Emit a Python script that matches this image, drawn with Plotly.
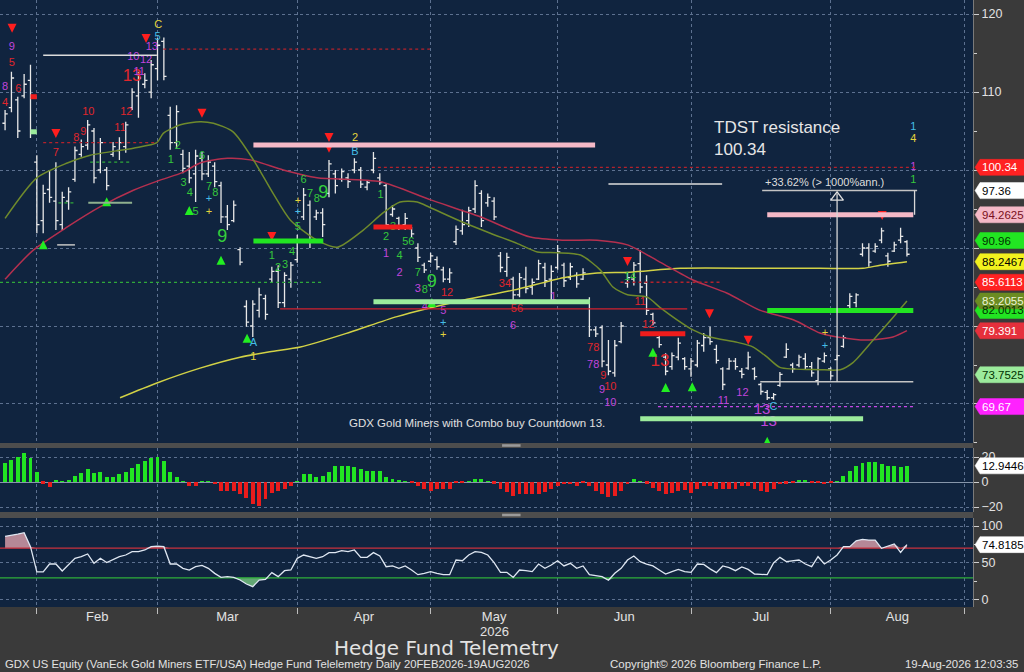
import numpy as np
import plotly.graph_objects as go
from plotly.subplots import make_subplots

# one entry per trading day, index 0 = last days of January 2026
bar_high = [
    107.7, 112.6, 109.4, 112.3, 113.5, 101.9, 98.1, 100.0, 101.0, 97.2,
    97.8, 103.0, 103.9, 106.4, 105.4, 104.1, 100.4, 103.6, 104.2, 106.2,
    110.5, 112.6, 112.4, 114.1, 116.9, 117.0, 108.1, 108.3, 102.6, 102.3,
    102.6, 102.3, 101.9, 101.0, 98.5, 95.5, 96.1, 90.1, 83.3, 83.3,
    84.9, 84.0, 87.6, 87.8, 86.9, 88.2, 91.7, 97.7, 96.1, 94.9,
    95.1, 101.3, 100.0, 100.2, 99.6, 101.5, 100.4, 98.7, 102.3, 99.6,
    98.3, 95.5, 94.0, 94.5, 92.7, 90.6, 88.1, 89.4, 88.9, 87.6,
    87.4, 92.9, 94.9, 95.3, 98.7, 97.4, 97.0, 96.5, 89.5, 89.4,
    86.3, 86.8, 87.6, 86.1, 88.5, 88.1, 87.8, 90.4, 88.1, 88.1,
    86.9, 87.4, 83.7, 79.9, 80.1, 78.2, 78.2, 80.5, 86.9, 88.2,
    89.7, 86.5, 81.7, 78.8, 76.5, 76.6, 78.5, 76.0, 75.9, 78.2,
    79.1, 79.9, 77.6, 74.7, 75.9, 75.9, 74.6, 76.7, 74.7, 72.7,
    71.8, 71.4, 74.1, 77.8, 75.3, 76.3, 76.5, 75.4, 76.0, 76.6,
    74.7, 76.3, 78.8, 84.2, 84.2, 90.6, 90.6, 90.6, 92.6, 89.4,
    90.8, 92.6, 91.0,
]
bar_low = [
    105.1, 107.4, 104.1, 109.2, 104.1, 91.9, 91.9, 95.8, 92.3, 92.3,
    94.9, 98.5, 101.7, 102.6, 98.3, 99.6, 97.4, 101.7, 101.3, 102.2,
    107.7, 106.7, 110.5, 109.2, 111.5, 111.5, 102.6, 102.7, 99.6, 98.3,
    95.9, 98.7, 99.1, 97.8, 93.2, 92.3, 93.3, 87.8, 79.9, 78.6,
    81.1, 80.8, 85.5, 82.3, 82.4, 84.9, 88.1, 93.6, 90.0, 93.6,
    91.4, 96.5, 97.0, 98.5, 97.7, 99.6, 97.7, 97.4, 99.6, 98.1,
    92.7, 94.0, 92.3, 92.3, 91.4, 88.2, 86.8, 88.1, 87.2, 85.6,
    85.5, 90.4, 91.7, 92.7, 94.5, 92.7, 95.3, 93.6, 86.9, 86.3,
    83.3, 83.7, 84.2, 84.0, 85.9, 85.0, 83.3, 87.2, 85.0, 85.9,
    84.9, 85.9, 78.6, 78.6, 74.7, 73.7, 73.5, 77.8, 84.9, 85.2,
    84.2, 81.4, 80.1, 77.2, 73.7, 74.4, 75.6, 74.4, 73.5, 74.7,
    76.7, 77.6, 75.2, 71.8, 74.4, 74.4, 73.3, 74.4, 73.1, 71.2,
    70.5, 70.5, 72.2, 75.9, 74.0, 74.7, 74.4, 73.5, 72.4, 75.3,
    73.1, 75.6, 77.2, 82.3, 82.4, 88.9, 87.6, 89.4, 90.6, 87.6,
    89.5, 90.6, 88.9,
]
bar_open = [
    106.0, 108.0, 109.0, 109.5, 111.5, 101.0, 93.5, 97.5, 96.0, 93.0,
    96.0, 98.8, 102.0, 103.2, 105.0, 100.0, 100.0, 102.0, 102.5, 103.0,
    108.0, 109.5, 111.0, 110.0, 113.0, 116.5, 107.0, 103.5, 102.0, 100.5,
    99.5, 101.5, 99.5, 100.5, 98.0, 94.0, 93.5, 89.8, 82.5, 80.0,
    82.0, 83.5, 86.0, 87.0, 83.0, 86.0, 88.5, 94.0, 95.5, 94.0,
    94.5, 97.0, 99.5, 98.8, 99.0, 100.0, 100.0, 97.8, 100.0, 99.0,
    98.0, 94.3, 93.8, 93.0, 92.5, 90.0, 87.8, 88.3, 88.5, 87.2,
    86.0, 90.8, 92.2, 93.5, 95.0, 97.0, 95.8, 96.0, 89.0, 87.0,
    86.0, 84.0, 86.0, 85.0, 86.0, 87.5, 86.0, 87.5, 87.8, 86.2,
    86.5, 86.0, 83.0, 79.5, 79.8, 75.0, 74.0, 78.0, 85.5, 86.0,
    88.0, 85.5, 81.5, 78.5, 76.0, 74.8, 76.0, 75.8, 74.5, 75.0,
    77.5, 78.5, 77.0, 74.5, 74.5, 75.5, 74.2, 74.6, 74.5, 72.5,
    71.5, 70.8, 72.4, 76.0, 75.0, 75.0, 75.8, 74.8, 73.0, 75.5,
    74.5, 75.7, 77.4, 82.6, 83.0, 89.2, 90.0, 89.6, 91.0, 89.0,
    89.6, 91.0, 90.8,
]
bar_close = [
    107.2, 111.8, 105.0, 111.0, 104.8, 93.0, 97.0, 96.5, 93.5, 96.5,
    97.2, 102.5, 103.0, 105.8, 99.0, 103.5, 98.0, 103.0, 103.5, 105.8,
    110.0, 111.8, 111.5, 113.5, 116.0, 112.0, 103.5, 107.5, 100.2, 99.0,
    101.8, 99.5, 101.0, 98.5, 94.0, 93.0, 95.5, 88.2, 80.5, 82.8,
    84.0, 81.5, 87.0, 83.0, 86.5, 87.8, 91.0, 96.8, 91.0, 94.5,
    93.0, 100.8, 98.0, 99.8, 98.5, 101.0, 98.2, 98.4, 101.5, 98.4,
    93.0, 95.0, 92.8, 93.8, 91.8, 88.8, 87.2, 89.0, 87.6, 86.0,
    86.8, 92.4, 93.0, 94.8, 98.0, 93.5, 96.5, 94.0, 87.5, 88.8,
    84.0, 86.2, 84.8, 85.6, 88.0, 85.8, 87.0, 89.5, 85.8, 87.6,
    85.4, 86.8, 79.5, 79.0, 75.5, 74.2, 77.5, 80.0, 86.2, 87.8,
    85.0, 82.0, 80.4, 77.6, 74.2, 76.2, 77.8, 74.8, 75.5, 77.8,
    78.5, 78.0, 75.6, 72.5, 75.5, 74.8, 73.8, 76.0, 73.5, 71.6,
    70.8, 71.2, 73.8, 77.0, 74.5, 76.0, 74.8, 74.0, 75.8, 76.2,
    73.6, 76.2, 78.5, 83.8, 84.0, 90.0, 88.2, 90.2, 92.2, 88.3,
    90.4, 91.5, 89.2,
]

# oscillator panel (histogram) and RSI, same bar index
osc_hist = [
    15, 17.6, 20, 23, 19, 8, -1.5, -4, 1, 0.3,
    1.3, 4.5, 7, 10, 7, 8, 4, 4, 6, 8,
    11, 14, 16.5, 19, 20, 16.5, 8, 4, 0.2, -3.5,
    -3.5, 0.2, 0.2, -2, -7.5, -7.5, -7.5, -10, -13, -18,
    -19.5, -14, -9, -7.5, -6, -3.5, 0.3, 6, 6, 4,
    4.5, 8, 12.5, 13, 13, 12, 10, 8.5, 8.5, 8.5,
    4, 2.5, 1, 0.5, -1, -3.5, -6, -7.5, -6, -6,
    -5.6, -1, -0.5, 0.5, 2.5, 2.5, 0.3, -1.5, -5.6, -8,
    -11, -10, -9.5, -10, -9.5, -8, -6, -3.5, -2, -2,
    -3.5, -1, -3.5, -7.5, -10, -12, -11, -7.5, -2, 2,
    0.5, -1.5, -4.5, -7.5, -10, -9, -7.5, -6.7, -9, -6,
    -3.5, -3, -5.6, -5.6, -5.6, -5.6, -3.5, -3.5, -5.6, -7.5,
    -8.3, -6, -2, -1.5, -1, 1, 1, -1, -1, -2,
    -0.8, 0.2, 5, 8.5, 13, 15, 15.7, 15.7, 14, 13,
    13, 11.7, 12.9,
]
rsi = [
    86, 87, 89, 91, 72, 38, 38, 48.6, 48.6, 39.2,
    47.3, 56.3, 58.5, 62.2, 49.5, 56.3, 50.5, 55, 58.5, 60.8,
    65.3, 65.3, 67.6, 72, 72.9, 72, 48.6, 48.6, 42.8, 40.5,
    45, 46.8, 42.8, 36, 30.6, 31.5, 30.6, 27, 21.6, 18,
    27, 27.9, 36.9, 31.5, 39.6, 40.5, 56.3, 60.8, 58.5, 56.3,
    58.5, 64, 64, 66.7, 65.3, 67.6, 57.6, 57.6, 64, 59.5,
    45, 46, 42.8, 46, 40.5, 34.2, 36, 38.3, 36, 34.2,
    34.2, 54, 53, 60.8, 65.3, 64.4, 60.8, 50.5, 37.4, 37.4,
    30.6, 40.5, 39.6, 38.3, 48.6, 42.8, 47.3, 53, 46, 49.5,
    42.8, 46, 34.2, 32.8, 31.5, 26.6, 36, 42.8, 54, 59.5,
    51.8, 48.6, 46, 40.5, 35.1, 38.3, 41.4, 38.3, 37.4, 48.6,
    48, 42, 37, 46, 43.7, 39.6, 44.6, 41.4, 35.1, 34.6,
    34.2, 50, 57.6, 51.8, 52.7, 54, 48.6, 45, 58.5, 48.6,
    54, 60.8, 72, 72, 80, 81.8, 81, 81, 69.8, 72.5,
    75.7, 64.4, 74.8,
]

# moving averages (bar index, price)
ma_short_x = [0, 5, 9.8, 13.4, 20.2, 23.9, 24.9, 27.6, 30.7, 32.8, 35.9, 39.1, 42.2, 44.9,
              49.1, 52.3, 56.4, 59.5, 62.2, 64.9, 66.9, 72.1, 76.4, 80.6, 83.8, 86.9, 90.6,
              93.7, 95.7, 98.0, 101.1, 103.1, 105.8, 108.3, 111.0, 115.3, 117.8, 120.0,
              122.0, 128.3, 131.5, 133.5, 136.7, 139.8, 142]
ma_short_y = [93.8, 99.0, 100.9, 101.9, 102.8, 103.5, 104.7, 105.8, 106.2, 106.0, 104.9, 101.3,
              97.0, 93.6, 91.0, 90.1, 92.3, 94.5, 95.9, 95.9, 95.2, 93.3, 91.9, 90.6, 89.5,
              89.4, 89.1, 87.2, 85.0, 84.0, 83.7, 82.4, 80.8, 79.5, 78.6, 77.9, 77.3, 76.0,
              74.7, 74.4, 74.4, 75.3, 78.2, 81.1, 83.2]
ma_mid_x = [0, 4.4, 9.8, 15.0, 20.2, 24.4, 28.0, 30.7, 35.0, 38.6, 43.8, 49.1, 59.1, 66.9,
            74.8, 82.7, 87.9, 93.2, 98.0, 103.1, 108.3, 113.7, 118.9, 124.1, 128.3, 131.0,
            135.7, 139.8, 142]
ma_mid_y = [86.0, 89.7, 92.7, 95.3, 97.4, 98.7, 99.7, 100.9, 101.5, 101.3, 100.0, 99.0, 98.5,
            96.2, 94.0, 91.4, 91.0, 91.0, 90.4, 88.2, 85.9, 84.2, 82.0, 80.8, 79.1, 78.6,
            78.2, 78.6, 79.4]
ma_long_x = [18.1, 23.9, 30.7, 37.0, 41.7, 46.5, 54.3, 61.7, 72.1, 80.0, 87.9, 93.2, 98.4,
             106.3, 118.9, 128.3, 135.1, 137.8, 142]
ma_long_y = [70.8, 72.7, 74.6, 76.0, 76.7, 77.3, 79.2, 81.2, 83.3, 84.6, 86.2, 86.8, 86.9,
             87.4, 87.4, 87.4, 87.4, 87.8, 88.25]

# first bar of each month, and month names
month_starts = [5, 24, 46, 67, 87, 108, 130, 151]
month_names = ["Feb", "Mar", "Apr", "May", "Jun", "Jul", "Aug"]

# horizontal levels: start bar, end bar, price, kind
level_x0 = [6.0, 24.9, 6.0, 13.4, 13.1, 8.2, 8.4, 39.1, 39.1, -0.8, 43.3, 58.7, 95.0, 58.0,
            58.0, 96.9, 100.0, 100.0, 102.8, 120.0, 120.0, 4.0, 4.0, 119.2, 118.9]
level_x1 = [23.9, 66.9, 24.0, 20.0, 20.0, 11.0, 11.0, 92.9, 50.1, 50.0, 107.4, 143.3, 112.9,
            64.1, 92.1, 112.6, 107.1, 135.1, 143.0, 143.0, 143.0, 5.0, 5.0, 143.6, 143.0]
level_y = [114.7, 115.5, 103.5, 101.0, 95.8, 90.4, 95.8, 103.2, 90.9, 85.6, 82.2, 100.34,
           98.2, 92.7, 83.1, 85.61, 79.0, 68.1, 69.67, 94.26, 82.0, 109.4, 104.9, 97.36, 72.86]
level_kind = ["white", "reddot", "reddot", "greendot", "graygreen", "gray", "greendot", "pink",
              "green", "greendot", "red", "reddot", "white", "redthick", "lightgreen", "reddot",
              "redthick", "lightgreen", "magdot", "pink", "green", "redthick", "lightgreen",
              "gray", "gray"]

# TD sequential counts: bar, price, text, kind
td_x = [1.05, 1.05, 0.0, 0.0, 2.1, 8.0, 11.2, 12.3, 13.1, 18.1, 19.1, 20.0, 20.2, 21.1, 22.2,
        23.1, 24.0, 24.1, 26.1, 27.2, 28.1, 29.1, 30.0, 31.0, 32.1, 33.1, 32.1, 32.1, 34.2,
        39.1, 39.1, 42.0, 43.0, 44.1, 45.2, 46.1, 47.0, 48.0, 49.1, 50.1, 46.1, 46.1, 55.1,
        55.1, 59.1, 60.0, 61.1, 63.5, 60.0, 62.1, 62.1, 65.0, 67.2, 65.0, 66.1, 69.6, 66.1,
        69.0, 69.0, 69.0, 78.7, 86.3, 80.6, 80.0, 92.6, 92.6, 94.2, 95.3, 94.0, 95.3, 98.4,
        100.0, 101.3, 103.1, 113.1, 116.1, 119.2, 121.0, 120.2, 129.1, 129.1, 143, 143, 143, 143]
td_y = [115.8, 113.7, 110.6, 108.6, 110.4, 102.2, 104.1, 104.9, 107.4, 105.4, 107.4, 111.9,
        114.5, 112.6, 114.1, 115.8, 117.0, 118.6, 101.3, 103.0, 98.3, 97.0, 94.6, 101.8, 97.8,
        97.0, 96.2, 94.6, 91.3, 77.8, 76.0, 89.0, 87.4, 87.8, 89.4, 92.7, 98.7, 96.9, 96.3,
        97.0, 96.0, 94.6, 104.1, 102.3, 96.8, 91.4, 92.7, 90.8, 89.2, 88.9, 86.8, 86.8, 85.6,
        84.7, 84.6, 84.2, 82.4, 81.9, 80.4, 78.8, 85.4, 83.7, 82.2, 80.0, 77.2, 75.0, 73.6,
        72.2, 71.7, 70.1, 86.3, 83.0, 80.1, 75.4, 70.3, 71.4, 69.2, 69.6, 67.7, 79.1, 77.4,
        105.5, 104.0, 100.4, 98.7]
td_text = ["9", "5", "8", "4", "6", "7", "8", "9", "10", "11", "12", "13", "10", "11", "12",
           "13", "5", "C", "1", "2", "3", "4", "5", "6", "7", "8", "+", "+", "9",
           "A", "1", "1", "2", "3", "4", "5", "6", "7", "8", "9", "+", "+", "2",
           "B", "1", "2", "3", "56", "1", "4", "2", "7", "9", "3", "8", "12", "4",
           "5", "+", "+", "34", "1", "56", "6", "78", "78", "9", "10", "9", "10", "14",
           "11", "12", "13", "11", "12", "13", "C", "13", "+", "+", "1", "4", "1", "1"]
td_kind = ["m", "r", "m", "r", "r", "r", "r", "r", "r", "r", "r", "R", "m", "m", "m",
           "m", "c", "y", "g", "g", "g", "g", "g", "g", "g", "g", "c", "y", "G",
           "c", "y", "g", "g", "g", "g", "g", "g", "g", "g", "G", "y", "c", "y",
           "c", "g", "g", "g", "g", "m", "g", "m", "g", "G", "m", "g", "r", "m",
           "m", "c", "y", "r", "m", "r", "m", "r", "m", "r", "r", "m", "m", "g",
           "r", "r", "R", "m", "m", "M", "c", "M", "y", "c", "c", "y", "m", "g"]

sell_x = [1.1, 8.0, 22.2, 31.0, 42.0, 51.0, 51.0, 98.0, 110.9, 117.0, 138.1]
sell_y = [117.6, 104.1, 116.3, 106.7, 90.9, 103.6, 102.2, 87.7, 81.0, 77.6, 93.6]
buy_x = [6.0, 16.0, 29.0, 34.0, 38.1, 67.2, 102.0, 104.0, 108.2, 120.0]
buy_y = [91.0, 96.5, 95.4, 89.0, 79.0, 83.6, 77.2, 72.7, 72.8, 65.8]

# last-value tags on the right axis
tag_values = [100.34, 97.36, 94.2625, 90.96, 88.2467, 85.6113, 82.0013, 83.2055, 79.391,
              73.7525, 69.67]
tag_text = ["100.34", "97.36", "94.2625", "90.96", "88.2467", "85.6113", "82.0013", "83.2055",
            "79.391", "73.7525", "69.67"]
hist_tag = 12.9446
rsi_tag = 74.8185

# price axis labels (the lower ones sit under the value tags)
price_ticks = [70, 80, 90, 100, 110, 120]
price_tick_text = ["", "", "", "", "110", "120"]

# ---- styling -------------------------------------------------------------
BG = "#10243f"
PAPER = "#3a3a3a"
GRID = "#5d7190"
FONT = "Liberation Sans"
WIDE = "DejaVu Sans"
TXT = "#e2e2e2"

level_style = {
    "white": ("#dcdcdc", 1.5, "solid"),
    "reddot": ("#b3222c", 1.3, "dot"),
    "greendot": ("#2fa83a", 1.3, "dot"),
    "graygreen": ("#8fb08f", 2, "solid"),
    "gray": ("#c4c4c4", 1.5, "solid"),
    "pink": ("#f5b9c7", 5, "solid"),
    "green": ("#22e522", 5, "solid"),
    "red": ("#d2202e", 1.2, "solid"),
    "redthick": ("#f01c1c", 5, "solid"),
    "lightgreen": ("#9ceb9c", 5, "solid"),
    "magdot": ("#c648e6", 1.3, "dot"),
}
td_color = {"r": "#e0262c", "R": "#e0262c", "m": "#c245dd", "M": "#c245dd", "g": "#35c73c",
            "G": "#35d03c", "c": "#45bde6", "y": "#e3d43c"}
td_size = {"r": 11, "R": 17, "m": 11, "M": 15, "g": 11, "G": 18, "c": 11, "y": 11}
tag_style = [("#ff2222", "#ffffff"), ("#ffffff", "#000000"), ("#f5b9c7", "#7a1020"),
             ("#22e522", "#003300"), ("#f2f21e", "#000000"), ("#ff2222", "#ffffff"),
             ("#22e522", "#003300"), ("#6b8c22", "#eef5d8"), ("#e5303c", "#ffffff"),
             ("#9ceb9c", "#003300"), ("#ff22ff", "#ffffff")]

MAIN_DOM = [0.2702, 1.0]
HIST_DOM = [0.1565, 0.2619]
RSI_DOM = [0.0, 0.1466]
MAIN_RNG = [65.0, 121.8]
HIST_RNG = [-24, 27.2]
RSI_RNG = [-9.5, 110.8]
X_RNG = [-0.8, 152.4]

idx = list(range(len(bar_close)))

fig = make_subplots(rows=3, cols=1, shared_xaxes=True, vertical_spacing=0.01)

fig.add_trace(go.Ohlc(
    x=idx, open=bar_open, high=bar_high, low=bar_low, close=bar_close,
    increasing=dict(line=dict(color="#e8e8e8", width=1.3)),
    decreasing=dict(line=dict(color="#e8e8e8", width=1.3)),
    tickwidth=0.42, hoverinfo="skip",
), row=1, col=1)

for xs, ys, col in [(ma_long_x, ma_long_y, "#d2d246"), (ma_mid_x, ma_mid_y, "#b5304f"),
                    (ma_short_x, ma_short_y, "#6f8a2c")]:
    fig.add_trace(go.Scatter(x=xs, y=ys, mode="lines",
                             line=dict(color=col, width=1.5, shape="spline", smoothing=0.7),
                             hoverinfo="skip"), row=1, col=1)

fig.add_trace(go.Scatter(
    x=td_x, y=td_y, text=td_text, mode="text",
    textfont=dict(family=FONT, color=[td_color[k] for k in td_kind],
                  size=[td_size[k] for k in td_kind]),
    hoverinfo="skip", cliponaxis=False,
), row=1, col=1)
fig.add_trace(go.Scatter(x=sell_x, y=sell_y, mode="markers",
                         marker=dict(symbol="arrow-down", size=9, color="#ff1e1e"),
                         hoverinfo="skip"), row=1, col=1)
fig.add_trace(go.Scatter(x=buy_x, y=buy_y, mode="markers",
                         marker=dict(symbol="arrow-up", size=9, color="#22ee22"),
                         hoverinfo="skip"), row=1, col=1)
# arrow head of the measuring tool
fig.add_trace(go.Scatter(x=[131], y=[96.5], mode="markers",
                         marker=dict(symbol="triangle-up-open", size=11, color="#e0e0e0",
                                     line=dict(width=1.3)),
                         hoverinfo="skip"), row=1, col=1)

# histogram
fig.add_trace(go.Bar(x=idx, y=osc_hist, width=0.62,
                     marker=dict(color=["#22e522" if v >= 0 else "#ea1c1c" for v in osc_hist],
                                 line=dict(width=0)),
                     hoverinfo="skip"), row=2, col=1)

# RSI with overbought / oversold fills
rsi_arr = np.array(rsi, dtype=float)
fig.add_trace(go.Scatter(x=idx, y=[70] * len(idx), mode="lines", line=dict(width=0),
                         hoverinfo="skip"), row=3, col=1)
fig.add_trace(go.Scatter(x=idx, y=np.maximum(rsi_arr, 70), mode="lines", line=dict(width=0),
                         fill="tonexty", fillcolor="rgba(236,170,182,0.75)",
                         hoverinfo="skip"), row=3, col=1)
fig.add_trace(go.Scatter(x=idx, y=[30] * len(idx), mode="lines", line=dict(width=0),
                         hoverinfo="skip"), row=3, col=1)
fig.add_trace(go.Scatter(x=idx, y=np.minimum(rsi_arr, 30), mode="lines", line=dict(width=0),
                         fill="tonexty", fillcolor="rgba(120,200,130,0.8)",
                         hoverinfo="skip"), row=3, col=1)
fig.add_trace(go.Scatter(x=X_RNG, y=[70, 70], mode="lines",
                         line=dict(color="#c8303e", width=1.3), hoverinfo="skip"), row=3, col=1)
fig.add_trace(go.Scatter(x=X_RNG, y=[30, 30], mode="lines",
                         line=dict(color="#2fae3a", width=1.3), hoverinfo="skip"), row=3, col=1)
fig.add_trace(go.Scatter(x=idx, y=rsi, mode="lines", line=dict(color="#dfe7f2", width=1.3),
                         hoverinfo="skip"), row=3, col=1)

shapes = []
for x0, x1, yv, kind in zip(level_x0, level_x1, level_y, level_kind):
    col, w, dash = level_style[kind]
    shapes.append(dict(type="line", xref="x", yref="y", x0=x0, x1=x1, y0=yv, y1=yv,
                       line=dict(color=col, width=w, dash=dash)))
# measuring tool verticals
shapes.append(dict(type="line", xref="x", yref="y", x0=131, x1=131, y0=72.86, y1=97.0,
                   line=dict(color="#d8d8d8", width=1.3)))
shapes.append(dict(type="line", xref="x", yref="y", x0=143.2, x1=143.2, y0=94.26, y1=97.36,
                   line=dict(color="#d8d8d8", width=1.3)))

# separators between panels
PLOT_H = 607.0
for top, bot in [(443, 448), (512, 518)]:
    shapes.append(dict(type="rect", xref="paper", yref="paper", x0=0, x1=1,
                       y0=(PLOT_H - bot) / PLOT_H, y1=(PLOT_H - top) / PLOT_H,
                       fillcolor="#4d4d4d", line=dict(width=0), layer="below"))
    mid = (top + bot) / 2
    shapes.append(dict(type="rect", xref="paper", yref="paper", x0=0.516, x1=0.535,
                       y0=(PLOT_H - mid - 1.3) / PLOT_H, y1=(PLOT_H - mid + 1.3) / PLOT_H,
                       fillcolor="#9a9a9a", line=dict(width=0)))


def paper_y(v, dom, rng):
    return dom[0] + (v - rng[0]) / (rng[1] - rng[0]) * (dom[1] - dom[0])


def py_px(ypx):
    return (PLOT_H - ypx) / PLOT_H


annotations = []
HH = 8.0 / PLOT_H
XT, XB, XR = 975 / 973, 980 / 973, 1.06


def add_tag(v, dom, rng, text, bg, fg):
    py = paper_y(v, dom, rng)
    shapes.append(dict(type="path", xref="paper", yref="paper",
                       path=f"M {XT},{py} L {XB},{py + HH} L {XR},{py + HH} "
                            f"L {XR},{py - HH} L {XB},{py - HH} Z",
                       fillcolor=bg, line=dict(color=bg, width=0.5)))
    annotations.append(dict(xref="paper", yref="paper", x=980 / 973, y=py, text=text,
                            xanchor="left", yanchor="middle", showarrow=False,
                            font=dict(family=FONT, size=11.5, color=fg)))


for v, t, (bg, fg) in zip(tag_values, tag_text, tag_style):
    add_tag(v, MAIN_DOM, MAIN_RNG, t, bg, fg)
add_tag(hist_tag, HIST_DOM, HIST_RNG, "12.9446", "#ffffff", "#000000")
add_tag(rsi_tag, RSI_DOM, RSI_RNG, "74.8185", "#ffffff", "#000000")

# chart texts
annotations += [
    dict(xref="x", yref="y", x=111.3, y=106.9, xanchor="left", yanchor="top",
         text="TDST resistance<br>100.34", showarrow=False, align="left",
         font=dict(family=FONT, size=17, color="#e6e6e6")),
    dict(xref="x", yref="y", x=119.3, y=97.5, xanchor="left", yanchor="bottom",
         text="+33.62% (> 1000%ann.)", showarrow=False,
         font=dict(family=FONT, size=11, color="#dddddd")),
    dict(xref="x", yref="y", x=53.9, y=67.6, xanchor="left", yanchor="middle",
         text="GDX Gold Miners with Combo buy Countdown 13.", showarrow=False,
         font=dict(family=FONT, size=11.5, color="#e0e0e0")),
    dict(xref="paper", yref="paper", x=494 / 973, y=py_px(631), yanchor="middle",
         text="2026", showarrow=False, font=dict(family=FONT, size=13, color=TXT)),
    dict(xref="paper", yref="paper", x=446 / 973, y=py_px(648), yanchor="middle",
         text="Hedge Fund Telemetry", showarrow=False,
         font=dict(family=WIDE, size=20, color=TXT)),
    dict(xref="paper", yref="paper", x=3 / 973, y=py_px(664), xanchor="left",
         yanchor="middle",
         text="GDX US Equity (VanEck Gold Miners ETF/USA) Hedge Fund Telelemetry Daily "
              "20FEB2026-19AUG2026",
         showarrow=False, font=dict(family=FONT, size=11.3, color=TXT)),
    dict(xref="paper", yref="paper", x=608 / 973, y=py_px(664), xanchor="left",
         yanchor="middle", text="Copyright\u00a9 2026 Bloomberg Finance L.P.",
         showarrow=False, font=dict(family=FONT, size=11.5, color=TXT)),
    dict(xref="paper", yref="paper", x=1020 / 973, y=py_px(664), xanchor="right",
         yanchor="middle", text="19-Aug-2026 12:03:35", showarrow=False,
         font=dict(family=FONT, size=11.4, color=TXT)),
]

month_mid = [(a + b) / 2 for a, b in zip(month_starts[:-1], month_starts[1:])]
xcommon = dict(range=X_RNG, showgrid=False, zeroline=False, tickvals=month_mid,
               ticktext=month_names, ticks="", showline=False,
               minor=dict(tickvals=month_starts, showgrid=True, gridcolor=GRID,
                          griddash="dot", gridwidth=1),
               rangeslider=dict(visible=False))
ycommon = dict(side="right", showgrid=True, gridcolor=GRID, griddash="dot", gridwidth=1,
               zeroline=False, ticks="outside", ticklen=5, tickcolor="#cfcfcf",
               showline=True, linecolor="#7a7a7a",
               tickfont=dict(family=FONT, size=12.5, color=TXT))

fig.update_layout(
    width=1024, height=672,
    margin=dict(l=0, r=51, t=0, b=65),
    paper_bgcolor=PAPER, plot_bgcolor=BG,
    showlegend=False, bargap=0,
    font=dict(family=FONT, color=TXT),
    shapes=shapes, annotations=annotations,
    xaxis=dict(xcommon, showticklabels=False),
    xaxis2=dict(xcommon, showticklabels=False),
    xaxis3=dict(xcommon, showticklabels=True,
                tickfont=dict(family=FONT, size=13, color=TXT),
                minor=dict(tickvals=month_starts, showgrid=True, gridcolor=GRID,
                           griddash="dot", gridwidth=1, ticks="outside", ticklen=6,
                           tickcolor="#bdbdbd")),
    yaxis=dict(ycommon, domain=MAIN_DOM, range=MAIN_RNG,
               tickvals=price_ticks, ticktext=price_tick_text,
               minor=dict(dtick=5, ticks="outside", ticklen=3, tickcolor="#cfcfcf")),
    yaxis2=dict(ycommon, domain=HIST_DOM, range=HIST_RNG, tickvals=[-20, 0, 20],
                zeroline=True, zerolinecolor="#8796ab", zerolinewidth=1.3),
    yaxis3=dict(ycommon, domain=RSI_DOM, range=RSI_RNG, tickvals=[0, 50, 100],
                minor=dict(tickvals=[25, 75], ticks="outside", ticklen=3,
                           tickcolor="#cfcfcf")),
)

# the page's default body margin would shift the figure by 8px
fig.write_html("out.html", config={"displayModeBar": False},
               post_script="document.body.style.margin='0';")
